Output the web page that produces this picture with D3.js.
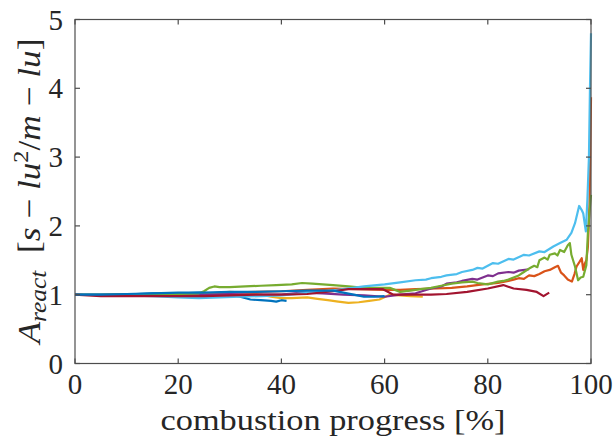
<!DOCTYPE html>
<html><head><meta charset="utf-8">
<script src="https://cdn.jsdelivr.net/npm/d3@7"></script>
</head>
<body style="margin:0;background:#fff"><svg id="chart" width="614" height="443" font-family="Liberation Serif"></svg>
<script>
const xTicks = [0, 20, 40, 60, 80, 100];
const yTicks = [0, 1, 2, 3, 4, 5];
const xLabel = "combustion progress [%]";

const blueA = [[0,1.0],[3,1.0],[6,1.0],[9,1.01],[12,1.01],[15,1.02],[18,1.02],[21,1.02],[24,1.03],[27,1.02],[30,1.0],[32,0.97],[34,0.93],[36,0.92],[38,0.91],[39,0.9],[40,0.92],[41,0.91]];
const orange = [[0,1.0],[5,1.0],[10,0.99],[15,1.0],[20,1.01],[25,1.02],[30,1.03],[35,1.04],[40,1.05],[45,1.07],[50,1.09],[55,1.08],[60,1.07],[63,1.07],[66,1.08],[70,1.09],[73,1.1],[76,1.12],[79,1.15],[82,1.17],[84,1.2],[85,1.22],[86,1.24],[87,1.23],[88,1.28],[89,1.27],[90,1.3],[91,1.34],[92,1.36],[93,1.4],[93.6,1.42],[94.2,1.32],[94.8,1.28],[95.5,1.22],[96.3,1.19],[96.8,1.3],[97.2,1.41],[97.8,1.48],[98.2,1.53],[98.5,1.36],[98.8,1.45],[99.1,1.5],[99.4,1.7],[99.7,2.28],[99.85,3.0],[100,3.87]];
const yellow = [[0,1.0],[5,1.0],[10,1.0],[15,0.99],[20,1.0],[25,1.01],[30,1.04],[33,1.03],[36,1.0],[38,0.97],[40,0.95],[42,0.95],[45,0.96],[47,0.94],[49,0.92],[51,0.9],[53,0.88],[55,0.89],[57,0.91],[59,0.93],[61,1.0],[63,0.99],[65,0.98],[67.4,0.97]];
const purple = [[0,1.0],[5,1.0],[10,1.0],[15,1.0],[20,1.0],[25,1.0],[30,1.01],[35,1.0],[40,1.0],[44,1.03],[48,1.02],[52,1.0],[56,0.99],[60,0.97],[63,1.0],[66,1.02],[69,1.09],[71,1.12],[72,1.16],[74,1.18],[75,1.2],[77,1.23],[78,1.22],[80,1.28],[81,1.27],[82,1.31],[84,1.33],[85,1.32],[86,1.35],[88,1.37]];
const green = [[0,1.0],[5,1.0],[10,1.0],[15,1.0],[20,1.01],[24,1.02],[25,1.05],[26,1.1],[27,1.12],[28,1.11],[30,1.11],[33,1.12],[36,1.13],[39,1.14],[42,1.15],[44,1.17],[46,1.16],[48,1.15],[50,1.14],[53,1.12],[56,1.1],[59,1.1],[61,1.1],[62,1.07],[63,1.04],[65,1.06],[67,1.08],[69,1.1],[71,1.13],[73,1.16],[75,1.18],[77,1.19],[78,1.17],[80,1.15],[82,1.19],[83,1.2],[84,1.22],[85,1.25],[86,1.28],[87,1.33],[88,1.38],[89,1.42],[89.6,1.4],[90,1.5],[91,1.54],[91.6,1.51],[92,1.58],[93,1.6],[93.5,1.57],[94,1.65],[94.8,1.62],[95.5,1.72],[95.9,1.75],[96.2,1.58],[96.9,1.41],[97.5,1.21],[98,1.25],[98.5,1.26],[99.1,1.43],[99.4,1.9],[99.7,2.2],[100,2.45]];
const cyan = [[0,1.0],[5,1.0],[10,0.99],[15,0.98],[20,0.96],[24,0.95],[28,0.96],[32,0.97],[36,0.98],[40,0.99],[44,1.02],[48,1.04],[52,1.08],[56,1.12],[60,1.15],[63,1.18],[66,1.21],[68,1.22],[69,1.24],[71,1.26],[72,1.28],[74,1.3],[75,1.33],[77,1.36],[78,1.39],[79,1.38],[81,1.46],[82,1.45],[84,1.52],[85,1.51],[87,1.58],[88,1.57],[90,1.63],[91,1.62],[92.7,1.7],[94,1.75],[95.3,1.8],[96.2,1.9],[96.9,2.04],[97.7,2.29],[98.2,2.23],[98.5,2.18],[99.0,1.92],[99.3,2.38],[99.6,3.0],[99.8,4.0],[100,4.8]];
const red = [[0,1.0],[5,0.98],[10,0.98],[15,0.98],[20,0.98],[25,0.98],[30,0.99],[35,1.0],[40,1.0],[45,1.01],[50,1.05],[53,1.08],[56,1.08],[59.7,1.08],[61.7,1.0],[65,1.0],[69,1.0],[72,1.01],[76,1.04],[80,1.09],[83,1.14],[85,1.09],[87.5,1.07],[89.5,1.04],[90.8,0.98],[91.9,1.03]];
const blueB = [[0,1.0],[5,1.0],[10,1.01],[15,1.02],[20,1.03],[25,1.03],[30,1.04],[35,1.04],[40,1.05],[45,1.06],[50,1.06],[52,1.03],[54,1.0],[56,0.97],[58,0.97],[60,0.98]];

const seriesList = [blueA, orange, yellow, purple, green, cyan, red, blueB];
const colors = ["#0072BD","#D95319","#EDB120","#7E2F8E","#77AC30","#4DBEEE","#A2142F","#0072BD"];

const svg = d3.select("#chart");
const L = 75, R = 591, T = 19.5, B = 363.5;
const x = d3.scaleLinear().domain([0,100]).range([L,R]);
const y = d3.scaleLinear().domain([0,5]).range([B,T]);
const axisColor = "#4d4d4d";
const txtColor = "#262626";

const line = d3.line().x(d=>x(d[0])).y(d=>y(d[1]));
const plot = svg.append("g");
seriesList.forEach((s,i)=>{
  plot.append("path").datum(s).attr("d",line)
    .attr("fill","none").attr("stroke",colors[i]).attr("stroke-width",2.2)
    .attr("stroke-linejoin","round");
});

svg.append("rect").attr("x",L).attr("y",T).attr("width",R-L).attr("height",B-T)
  .attr("fill","none").attr("stroke",axisColor).attr("stroke-width",1.2);

function txt(sel, size){ return sel.attr("font-family","Liberation Serif").attr("font-size",size).attr("fill",txtColor); }

const tl = 5;
xTicks.forEach(t=>{
  svg.append("line").attr("x1",x(t)).attr("x2",x(t)).attr("y1",B).attr("y2",B-tl).attr("stroke",axisColor).attr("stroke-width",1.2);
  svg.append("line").attr("x1",x(t)).attr("x2",x(t)).attr("y1",T).attr("y2",T+tl).attr("stroke",axisColor).attr("stroke-width",1.2);
  txt(svg.append("text"),29).attr("x",x(t)).attr("y",394).attr("text-anchor","middle").text(String(t));
});
yTicks.forEach(t=>{
  svg.append("line").attr("x1",L).attr("x2",L+tl).attr("y1",y(t)).attr("y2",y(t)).attr("stroke",axisColor).attr("stroke-width",1.2);
  svg.append("line").attr("x1",R).attr("x2",R-tl).attr("y1",y(t)).attr("y2",y(t)).attr("stroke",axisColor).attr("stroke-width",1.2);
  txt(svg.append("text"),29).attr("x",63).attr("y",y(t)+10).attr("text-anchor","end").text(String(t));
});

txt(svg.append("text"),30).attr("x",(L+R)/2).attr("y",430).attr("text-anchor","middle")
  .attr("textLength",345).attr("lengthAdjust","spacingAndGlyphs").text(xLabel);

const yl = txt(svg.append("text"),32).attr("transform","translate(40,191) rotate(-90)")
  .attr("text-anchor","middle").attr("textLength",305).attr("lengthAdjust","spacingAndGlyphs");
yl.append("tspan").attr("font-style","italic").text("A");
yl.append("tspan").attr("font-style","italic").attr("font-size",23).attr("dy",6).text("react");
yl.append("tspan").attr("dy",-6).text("\u2002[");
yl.append("tspan").attr("font-style","italic").text("s");
yl.append("tspan").text(" \u2212 ");
yl.append("tspan").attr("font-style","italic").text("lu");
yl.append("tspan").attr("font-size",22).attr("dy",-12).text("2");
yl.append("tspan").attr("dy",12).text("/");
yl.append("tspan").attr("font-style","italic").text("m");
yl.append("tspan").text(" \u2212 ");
yl.append("tspan").attr("font-style","italic").text("lu");
yl.append("tspan").text("]");
</script></body></html>
